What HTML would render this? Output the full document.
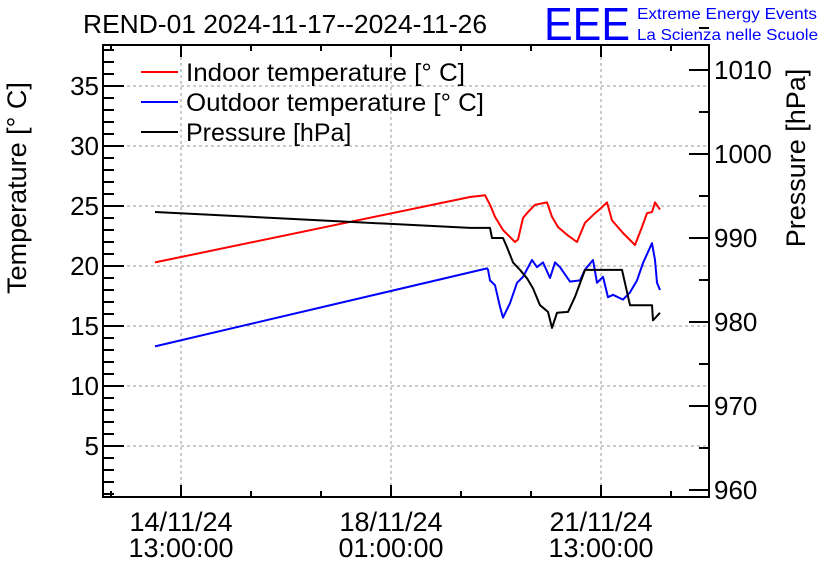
<!DOCTYPE html>
<html><head><meta charset="utf-8"><style>
html,body{margin:0;padding:0;background:#fff;}
svg{display:block;font-family:"Liberation Sans",sans-serif;}
</style></head><body>
<svg id="c" width="836" height="572">
<text x="83" y="33" font-size="26" textLength="404" lengthAdjust="spacingAndGlyphs">REND-01 2024-11-17--2024-11-26</text>
<text x="544" y="40" font-size="46" fill="#0000ff" textLength="86" lengthAdjust="spacingAndGlyphs">EEE</text>
<text x="637" y="19" font-size="16" fill="#0000ff" textLength="180" lengthAdjust="spacingAndGlyphs">Extreme Energy Events</text>
<text x="637" y="40" font-size="16" fill="#0000ff" textLength="181" lengthAdjust="spacingAndGlyphs">La Scienza nelle Scuole</text>
<text transform="translate(26,188) rotate(-90)" text-anchor="middle" font-size="27">Temperature [° C]</text>
<text transform="translate(805,158) rotate(-90)" text-anchor="middle" font-size="27">Pressure [hPa]</text>
<g id="grid"></g><g id="series"></g><g id="axes"></g>
<g>
<line x1="141" y1="72" x2="178" y2="72" stroke="#ff0000" stroke-width="2"/>
<text x="186" y="81" font-size="25" textLength="279" lengthAdjust="spacingAndGlyphs">Indoor temperature [° C]</text>
<line x1="141" y1="102" x2="178" y2="102" stroke="#0000ff" stroke-width="2"/>
<text x="186" y="111" font-size="25" textLength="298" lengthAdjust="spacingAndGlyphs">Outdoor temperature [° C]</text>
<line x1="141" y1="132" x2="178" y2="132" stroke="#000" stroke-width="2"/>
<text x="186" y="141" font-size="25">Pressure [hPa]</text>
</g>
</svg>
<script>
// hours since 14/11/24 13:00
const indoorHours=[-10.4,115.6,121.6,123.6,125.6,128.8,133.6,134.8,136.8,138.8,141.6,146.4,148.4,150.8,154.4,158.4,161.6,165.6,168.4,170.4,172.4,176.8,181.6,184.4,186.4,188.4,189.6,191.6];
const indoorTemp=[20.3,25.75,25.9,25.1,24.1,23.0,22.0,22.2,24.0,24.5,25.1,25.3,24.1,23.25,22.6,22.0,23.6,24.4,24.9,25.3,23.8,22.75,21.75,23.25,24.4,24.5,25.3,24.7];
const outdoorHours=[-10.4,122.4,122.8,123.6,125.6,127.6,128.8,131.6,134.4,136.8,140.4,142.4,144.8,147.6,149.6,151.6,155.6,159.6,161.6,164.8,166.4,168.8,170.8,172.8,176.8,179.6,182.4,184.8,188.4,189.6,190.4,191.6];
const outdoorTemp=[13.3,19.8,19.7,18.8,18.4,16.6,15.7,16.9,18.6,19.1,20.5,19.9,20.3,19.0,20.3,19.9,18.7,18.8,19.7,20.5,18.6,19.1,17.4,17.6,17.2,17.8,18.8,20.25,21.9,20.5,18.6,18.0];
const pressHours=[-10.4,115.6,123.6,124.4,128.8,130.4,132.8,135.6,138.4,140.8,143.6,146.8,148.4,150.4,154.8,157.6,161.6,176.4,179.6,188.4,188.8,191.6];
const pressVals=[993.1,991.2,991.2,990.0,990.0,988.9,987.1,986.2,985.2,984.0,982.0,981.2,979.3,981.1,981.2,983.0,986.2,986.2,982.0,982.0,980.2,981.1];
const tempTicks=[5,10,15,20,25,30,35];
const pressTicks=[960,970,980,990,1000,1010];
const timeTicks=[0,84,168];
const timeLabels=[["14/11/24","13:00:00"],["18/11/24","01:00:00"],["21/11/24","13:00:00"]];

const L=103,R=709,T=45,B=497;
const xs=h=>181+2.5*h;
const yT=t=>506-12*t;
const yP=p=>490-8.4*(p-960);
const NS="http://www.w3.org/2000/svg";
function mk(tag,attrs,parent){const e=document.createElementNS(NS,tag);for(const k in attrs)e.setAttribute(k,attrs[k]);parent.appendChild(e);return e;}
const grid=document.getElementById('grid'),series=document.getElementById('series'),axes=document.getElementById('axes');
const dash={stroke:"#999","stroke-dasharray":"3,3","stroke-width":1};
timeTicks.forEach(h=>{const g=mk('line',Object.assign({x1:xs(h),x2:xs(h),y1:T,y2:B},dash),grid);

});
tempTicks.forEach(t=>{const g=mk('line',Object.assign({x1:L,x2:R,y1:yT(t),y2:yT(t)},dash),grid);

});
function line(hs,vs,fy,color,name){const d=hs.map((h,i)=>(i?'L':'M')+xs(h).toFixed(1)+','+fy(vs[i]).toFixed(1)).join('');
const p=mk('path',{d:d,fill:"none",stroke:color,"stroke-width":2,"stroke-linejoin":"round"},series);

}
line(indoorHours,indoorTemp,yT,"#ff0000","indoor-temperature-line");
line(outdoorHours,outdoorTemp,yT,"#0000ff","outdoor-temperature-line");
line(pressHours,pressVals,yP,"#000000","pressure-line");
const fr=mk('rect',{x:L,y:T,width:R-L,height:B-T,fill:"none",stroke:"#000","stroke-width":2},axes);


const tk={stroke:"#000","stroke-width":2};
for(let t=1;t<=38;t++){mk('line',Object.assign({x1:L,x2:L+(t%5?11:21),y1:yT(t),y2:yT(t)},tk),axes);}
tempTicks.forEach(t=>{const e=mk('text',{x:L-4,y:yT(t)+9,"text-anchor":"end","font-size":26},axes);e.textContent=t;

});
for(let p=960;p<=1015;p+=5){mk('line',Object.assign({x1:R,x2:R-(p%10?10:20),y1:yP(p),y2:yP(p)},tk),axes);}
pressTicks.forEach(p=>{const e=mk('text',{x:R+5,y:yP(p)+9,"font-size":26},axes);e.textContent=p;

});
for(let h=-28;h<=196;h+=28){const x=xs(h);if(x<L||x>R)continue;const maj=(h%84===0);
mk('line',Object.assign({x1:x,x2:x,y1:B,y2:B-(maj?12:6)},tk),axes);
mk('line',Object.assign({x1:x,x2:x,y1:T,y2:T+(maj?12:6)},tk),axes);}
timeTicks.forEach((h,i)=>{[0,1].forEach(j=>{const e=mk('text',{x:xs(h),y:531+j*26,"text-anchor":"middle","font-size":27},axes);e.textContent=timeLabels[i][j];

});});
</script>
</body></html>
